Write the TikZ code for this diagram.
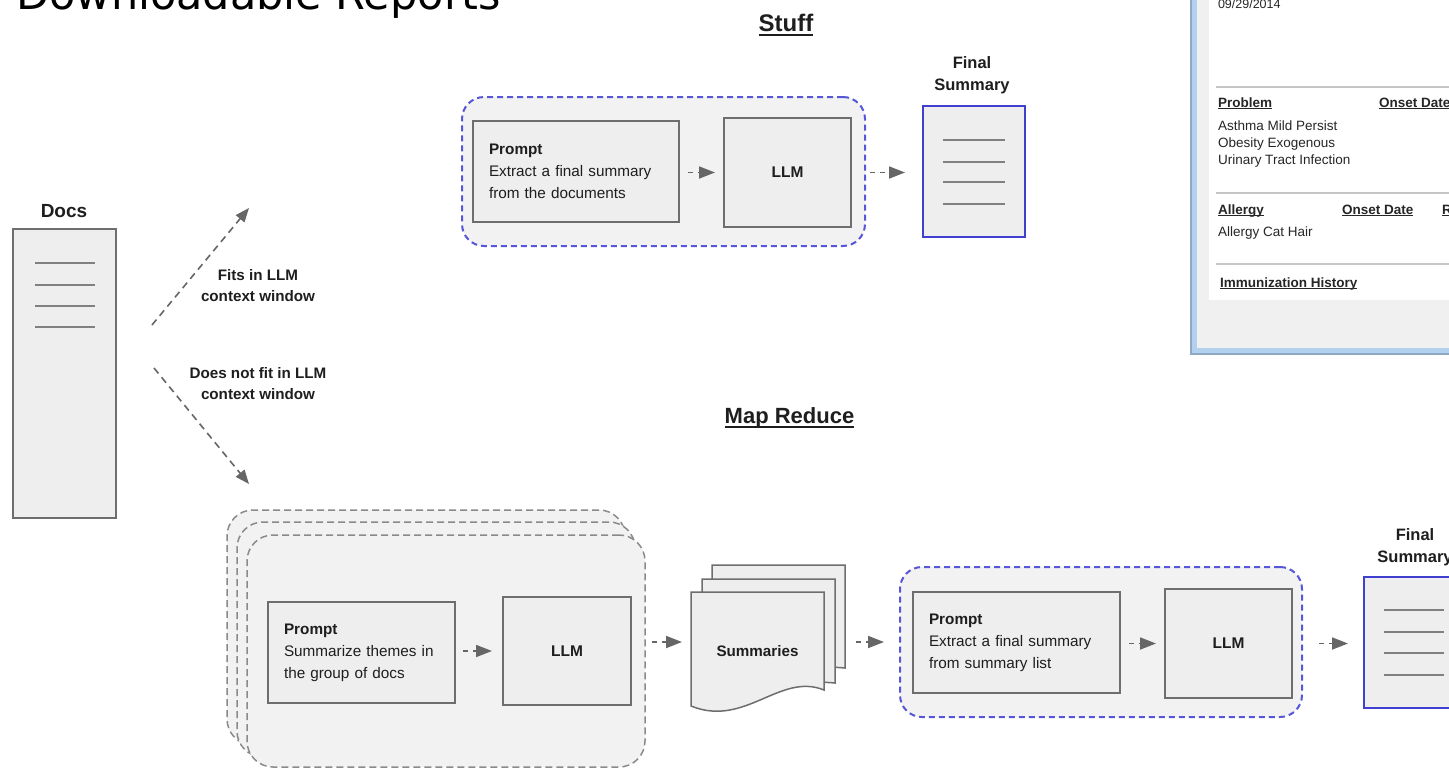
\documentclass[tikz,border=0pt]{standalone}
\usepackage{fontspec}
\setmainfont{Liberation Sans}
\newfontfamily\titlefont{DejaVu Sans}
\usetikzlibrary{arrows.meta}
\definecolor{boxgray}{HTML}{6E6E6E}
\definecolor{boxfill}{HTML}{EEEEEE}
\definecolor{grpfill}{HTML}{F2F2F2}
\definecolor{grpline}{HTML}{8A8A8A}
\definecolor{dashblue}{HTML}{5656D8}
\definecolor{docblue}{HTML}{3F3FD0}
\definecolor{arrgray}{HTML}{666666}
\definecolor{linegray}{HTML}{808080}
\definecolor{txt}{HTML}{1E1E1E}
\definecolor{panelblue}{HTML}{B3D1EE}
\definecolor{paneledge}{HTML}{8FA9C4}
\definecolor{panelgray}{HTML}{F0F0F0}
\definecolor{rulegray}{HTML}{C6C6C6}
\definecolor{ptxt}{HTML}{262626}
\newcommand\ulthin[1]{\setbox0\hbox{#1}\rlap{\rule[-2pt]{\wd0}{1pt}}\box0}
\newcommand\ulthick[1]{\setbox0\hbox{#1}\rlap{\rule[-4.5pt]{\wd0}{2pt}}\box0}
\begin{document}
\begin{tikzpicture}[x=1pt,y=-1pt,
  every node/.style={inner sep=0pt,outer sep=0pt,text=txt},
  procbox/.style={draw=boxgray,fill=boxfill,line width=1.6pt,rectangle},
  promptbox/.style={procbox,align=left,inner xsep=16pt,font=\fontsize{15.3}{22}\selectfont},
  llmbox/.style={procbox,font=\bfseries\fontsize{15.5}{18}\selectfont},
  sumdoc/.style={draw=docblue,fill=boxfill,line width=2pt,rectangle},
  grpgray/.style={draw=grpline,fill=grpfill,line width=1.5pt,dash pattern=on 7pt off 4pt,rounded corners=26pt},
  grpblue/.style={draw=dashblue,fill=grpfill,line width=2pt,dash pattern=on 6pt off 4pt,rounded corners=22pt},
  flow/.style={draw=arrgray,line width=1.8pt,dash pattern=on 5pt off 5pt,-{Triangle[length=16pt,width=12pt]}},
  diag/.style={draw=arrgray,line width=1.6pt,dash pattern=on 7pt off 5pt,-{Triangle[length=14pt,width=11pt]}},
  docline/.style={draw=linegray,line width=2.2pt},
  lbl/.style={font=\bfseries\fontsize{15.2}{21}\selectfont,align=center},
  flbl/.style={font=\bfseries\fontsize{16.5}{22}\selectfont,align=center},
  sheet/.style={draw=boxgray,fill=boxfill,line width=1.5pt},
  ptext/.style={font=\fontsize{13.5}{16}\selectfont,text=ptxt},
  phead/.style={font=\bfseries\fontsize{13.5}{16}\selectfont,text=ptxt},
  prule/.style={draw=rulegray,line width=1.5pt}
]
\useasboundingbox (0,0) rectangle (1449,769);
\clip (0,0) rectangle (1449,769);
\fill[white] (0,0) rectangle (1449,769);

% title (cut off at top)
\node[anchor=base west,font=\titlefont\fontsize{43}{50}\selectfont,text=black] (title) at (16.5,9.5) {Downloadable Reports};

% report panel (top right)
\fill[paneledge] (1190,-5) rectangle (1460,355);
\fill[panelblue] (1192,-5) rectangle (1460,353);
\fill[panelgray] (1197,-5) rectangle (1460,348);
\fill[white] (1209,-5) rectangle (1460,300);
\node[ptext,anchor=base west,font=\fontsize{12.5}{15}\selectfont] (pdate) at (1218,8) {09/29/2014};
\draw[prule] (1216,87) -- (1460,87);
\node[phead,anchor=base west] (pprob) at (1218,107) {\ulthin{Problem}};
\node[phead,anchor=base west] (ponset) at (1379,107) {\ulthin{Onset Date}};
\node[ptext,anchor=base west] (pp1) at (1218,130) {Asthma Mild Persist};
\node[ptext,anchor=base west] (pp2) at (1218,147) {Obesity Exogenous};
\node[ptext,anchor=base west] (pp3) at (1218,164.5) {Urinary Tract Infection};
\draw[prule] (1216,193) -- (1460,193);
\node[phead,anchor=base west] (pall) at (1218,214) {\ulthin{Allergy}};
\node[phead,anchor=base west] (ponset2) at (1342,214) {\ulthin{Onset Date}};
\node[phead,anchor=base west] (pr) at (1442,214) {\ulthin{R}};
\node[ptext,anchor=base west] (pa1) at (1218,236) {Allergy Cat Hair};
\draw[prule] (1216,264) -- (1460,264);
\node[phead,anchor=base west] (pimm) at (1220,287) {\ulthin{Immunization History}};

% Docs
\node[lbl,anchor=base,font=\bfseries\fontsize{19}{22}\selectfont] (docslbl) at (64,217) {Docs};
\node[procbox,minimum width=103,minimum height=289] (docs) at (64.5,373.5) {};
\foreach \yy in {263,285,306,327} \draw[docline] (35,\yy) -- (95,\yy);

% branch arrows
\coordinate (fitA) at (152,325);
\coordinate (fitB) at (249,208);
\coordinate (nfA) at (154,368);
\coordinate (nfB) at (249,484);
\draw[diag] (fitA) -- (fitB);
\draw[diag] (nfA) -- (nfB);
\node[lbl] (fitlbl) at (258,286) {Fits in LLM\\context window};
\node[lbl] (nfitlbl) at (258,384) {Does not fit in LLM\\context window};

% Stuff
\node[anchor=base,font=\bfseries\fontsize{24}{28}\selectfont] (stuffttl) at (786,31) {\ulthick{Stuff}};
\node[grpblue,minimum width=403,minimum height=149] (stuffgrp) at (663.5,171.5) {};
\node[promptbox,text width=174,minimum height=101] (p1) at (576,171.5) {\textbf{Prompt}\\Extract a final summary\\from the documents};
\node[llmbox,minimum width=127,minimum height=109] (l1) at (787.5,172.5) {LLM};
\node[sumdoc,minimum width=102,minimum height=131] (f1) at (974,171.5) {};
\foreach \yy in {140,162,182,204} \draw[docline] (943,\yy) -- (1005,\yy);
\node[flbl] (f1lbl) at (972,75.5) {Final\\Summary};
\draw[flow,shorten <=9pt,shorten >=9pt] (p1.east |- l1.west) -- (l1.west);
\draw[flow,shorten <=19pt,shorten >=18pt] (l1.east) -- (l1.east -| f1.west);

% Map Reduce
\node[anchor=base,font=\bfseries\fontsize{22}{26}\selectfont] (mapttl) at (789.5,423) {\ulthick{Map Reduce}};
\node[grpgray,minimum width=398,minimum height=235] (mapback) at (426,627.5) {};
\node[grpgray,minimum width=398,minimum height=235] (mapmid) at (436,639.5) {};
\node[grpgray,minimum width=398,minimum height=232] (mapfront) at (446,651) {};
\node[promptbox,text width=155,minimum height=101] (mp) at (361.5,652.5) {\textbf{Prompt}\\Summarize themes in\\the group of docs};
\node[llmbox,minimum width=128,minimum height=108] (ml) at (567,651) {LLM};
\draw[flow,shorten <=8pt,shorten >=11pt] (mp.east |- ml.west) -- (ml.west);

% Summaries stack
\path[sheet] (712,565) -- (845,565) -- (845,668) .. controls (800,664) and (760,672) .. (712,668) -- cycle;
\path[sheet] (702,579) -- (835,579) -- (835,683) .. controls (790,679) and (750,687) .. (702,683) -- cycle;
\path[sheet] (691,592) -- (824,592) -- (824,690) .. controls (780,672) and (745,728) .. (691,706) -- cycle;
\node[minimum width=133,minimum height=100] (sumdoc) at (757.5,642) {};
\node[lbl] (summ) at (757.5,651.5) {Summaries};
\draw[flow,shorten <=7pt,shorten >=9pt] (mapfront.east |- sumdoc.west) -- (sumdoc.west);

% Reduce
\node[grpblue,minimum width=402,minimum height=150] (redgrp) at (1101,642) {};
\node[promptbox,text width=175,minimum height=101] (p2) at (1016.5,642.5) {\textbf{Prompt}\\Extract a final summary\\from summary list};
\node[llmbox,minimum width=127,minimum height=109] (l2) at (1228.5,643.5) {LLM};
\node[sumdoc,minimum width=102,minimum height=131] (f2) at (1415,642.5) {};
\foreach \yy in {610,632,653,675} \draw[docline] (1384,\yy) -- (1444,\yy);
\node[flbl] (f2lbl) at (1415,547) {Final\\Summary};
\draw[flow,shorten <=32pt,shorten >=16pt] (sumdoc.east) -- (redgrp.west |- sumdoc.east);
\draw[flow,shorten <=9pt,shorten >=9pt] (p2.east |- l2.west) -- (l2.west);
\draw[flow,shorten <=27pt,shorten >=16pt] (l2.east) -- (l2.east -| f2.west);
\end{tikzpicture}
\end{document}
